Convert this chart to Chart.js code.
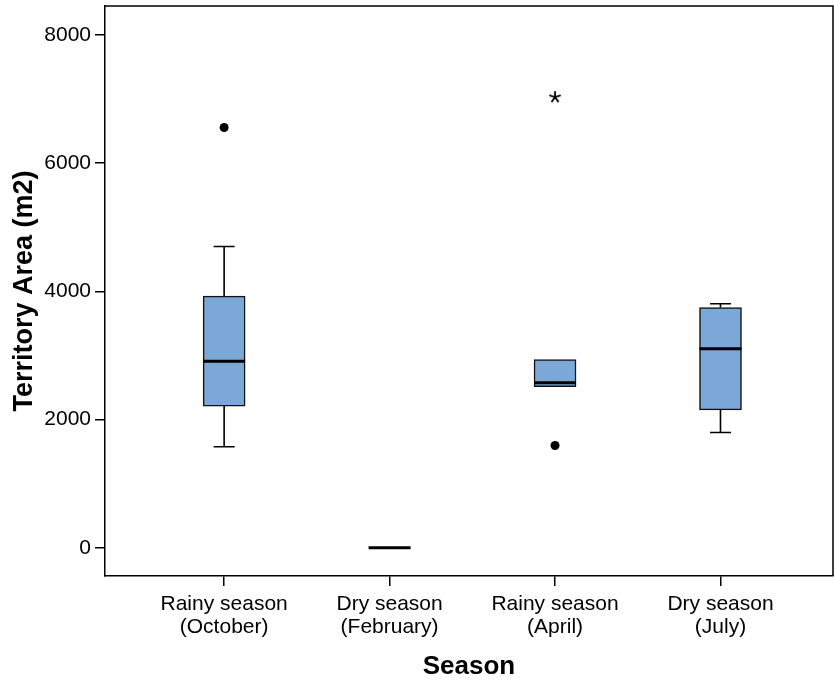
<!DOCTYPE html>
<html>
<head>
<meta charset="utf-8">
<script src="https://cdn.jsdelivr.net/npm/chart.js@4.4.0/dist/chart.umd.min.js"></script>
<style>
  body { margin: 0; background: #fff; }
  #wrap { width: 834px; height: 681px; }
</style>
</head>
<body>
<div id="wrap"><canvas id="boxChart" width="834" height="681"></canvas></div>
<script>
// season labels (two lines each)
var seasons = [
  ["Rainy season", "(October)"],
  ["Dry season", "(February)"],
  ["Rainy season", "(April)"],
  ["Dry season", "(July)"]
];
var whiskerLow = [1575, 0, 2511, 1798];
var q1 = [2210, 0, 2511, 2152];
var median = [2911, 0, 2573, 3103];
var q3 = [3925, 0, 2937, 3747];
var whiskerHigh = [4699, 0, 2937, 3805];
// outliers: circles and extreme (star)
var outlierPos = [0, 2];
var outlierVal = [6555, 1595];
var extremePos = [2];
var extremeVal = [7028];
var yTicks = [0, 2000, 4000, 6000, 8000];

var boxFill = "rgb(123,168,214)";

// little asterisk image for the extreme value
function makeStar() {
  var c = document.createElement("canvas");
  c.width = 14;
  c.height = 14;
  var g = c.getContext("2d");
  g.strokeStyle = "#000";
  g.lineWidth = 1.8;
  g.beginPath();
  for (var k = 0; k < 5; k++) {
    var a = (-90 + k * 72) * Math.PI / 180;
    g.moveTo(7, 7);
    g.lineTo(7 + 6 * Math.cos(a), 7 + 6 * Math.sin(a));
  }
  g.stroke();
  return c;
}

var boxPlugin = {
  id: "boxParts",
  afterLayout: function (chart) {
    // stretch plot area to the right edge of the canvas
    var xs = chart.scales.x;
    var r = chart.width - 1;
    chart.chartArea.right = r;
    chart.chartArea.width = r - chart.chartArea.left;
    xs.right = r;
    xs.width = r - xs.left;
    xs.configure();
  },
  beforeDatasetsDraw: function (chart) {
    var ctx = chart.ctx;
    var xs = chart.scales.x;
    var ys = chart.scales.y;
    ctx.save();
    ctx.strokeStyle = "#000";
    ctx.lineWidth = 1.6;
    for (var i = 0; i < seasons.length; i++) {
      var x = xs.getPixelForValue(i);
      var lo = ys.getPixelForValue(whiskerLow[i]);
      var hi = ys.getPixelForValue(whiskerHigh[i]);
      var b1 = ys.getPixelForValue(q1[i]);
      var b3 = ys.getPixelForValue(q3[i]);
      ctx.beginPath();
      if (whiskerLow[i] < q1[i]) {
        ctx.moveTo(x, lo); ctx.lineTo(x, b1);
        ctx.moveTo(x - 10.5, lo); ctx.lineTo(x + 10.5, lo);
      }
      if (whiskerHigh[i] > q3[i]) {
        ctx.moveTo(x, hi); ctx.lineTo(x, b3);
        ctx.moveTo(x - 10.5, hi); ctx.lineTo(x + 10.5, hi);
      }
      ctx.stroke();
    }
    ctx.restore();
  },
  afterDatasetsDraw: function (chart) {
    var ctx = chart.ctx;
    var xs = chart.scales.x;
    var ys = chart.scales.y;
    ctx.save();
    ctx.strokeStyle = "#000";
    ctx.lineWidth = 3;
    for (var i = 0; i < seasons.length; i++) {
      var x = xs.getPixelForValue(i);
      var m = ys.getPixelForValue(median[i]);
      ctx.beginPath();
      ctx.moveTo(x - 21, m);
      ctx.lineTo(x + 21, m);
      ctx.stroke();
    }
    // frame top and right
    var a = chart.chartArea;
    ctx.lineWidth = 1.5;
    ctx.beginPath();
    ctx.moveTo(a.left, a.top);
    ctx.lineTo(a.right, a.top);
    ctx.lineTo(a.right, a.bottom);
    ctx.stroke();
    ctx.restore();
  }
};

var ctx = document.getElementById("boxChart").getContext("2d");
var chart = new Chart(ctx, {
  type: "bar",
  data: {
    datasets: [
      {
        type: "bar",
        data: seasons.map((s, i) => ({ x: i, y: [q1[i], q3[i]] })),
        backgroundColor: boxFill,
        borderColor: "#111",
        borderWidth: 1.5,
        borderSkipped: false,
        barThickness: 42,
        order: 2
      },
      {
        type: "scatter",
        data: outlierPos.map((p, i) => ({ x: p, y: outlierVal[i] })),
        pointStyle: "circle",
        pointRadius: 4.5,
        backgroundColor: "#000",
        borderColor: "#000",
        borderWidth: 0,
        order: 1
      },
      {
        type: "scatter",
        data: extremePos.map((p, i) => ({ x: p, y: extremeVal[i] })),
        pointStyle: makeStar(),
        order: 1
      }
    ]
  },
  options: {
    responsive: false,
    animation: false,
    layout: { padding: { top: 6, right: 1, left: 0, bottom: 0 } },
    plugins: { legend: { display: false }, tooltip: { enabled: false } },
    scales: {
      x: {
        type: "linear",
        offset: false,
        min: -0.72,
        max: 3.68,
        afterFit: function (s) {
          s.height = 105;
          s.paddingLeft = 0;
          s.paddingRight = 0;
        },
        afterBuildTicks: function (s) {
          s.ticks = seasons.map((lab, i) => ({ value: i }));
        },
        ticks: {
          color: "#000",
          padding: 7,
          maxRotation: 0,
          autoSkip: false,
          font: { family: "'Liberation Sans', Arial, sans-serif", size: 21, lineHeight: 1.1 },
          callback: function (v) { return seasons[v]; }
        },
        grid: { drawOnChartArea: false, drawTicks: true, tickLength: 10, color: "#000", lineWidth: 1.5, offset: false },
        border: { display: true, color: "#000", width: 1.5 },
        title: {
          display: true,
          text: "Season",
          color: "#000",
          padding: { top: 0, bottom: 1 },
          font: { family: "'Liberation Sans', Arial, sans-serif", size: 26, weight: "bold", lineHeight: 1 }
        }
      },
      y: {
        min: -440,
        max: 8450,
        afterFit: function (s) {
          s.width = 105;
          s.paddingTop = 0;
          s.paddingBottom = 0;
        },
        afterBuildTicks: function (s) {
          s.ticks = yTicks.map((v) => ({ value: v }));
        },
        ticks: {
          color: "#000",
          padding: 4,
          font: { family: "'Liberation Sans', Arial, sans-serif", size: 21 },
          callback: function (v) { return String(v); }
        },
        grid: { drawOnChartArea: false, drawTicks: true, tickLength: 10, color: "#000", lineWidth: 1.5 },
        border: { display: true, color: "#000", width: 1.5 },
        title: {
          display: true,
          text: "Territory Area (m2)",
          color: "#000",
          padding: { top: 11, bottom: 0 },
          font: { family: "'Liberation Sans', Arial, sans-serif", size: 27, weight: "bold", lineHeight: 1 }
        }
      }
    }
  },
  plugins: [boxPlugin]
});
</script>
</body>
</html>
